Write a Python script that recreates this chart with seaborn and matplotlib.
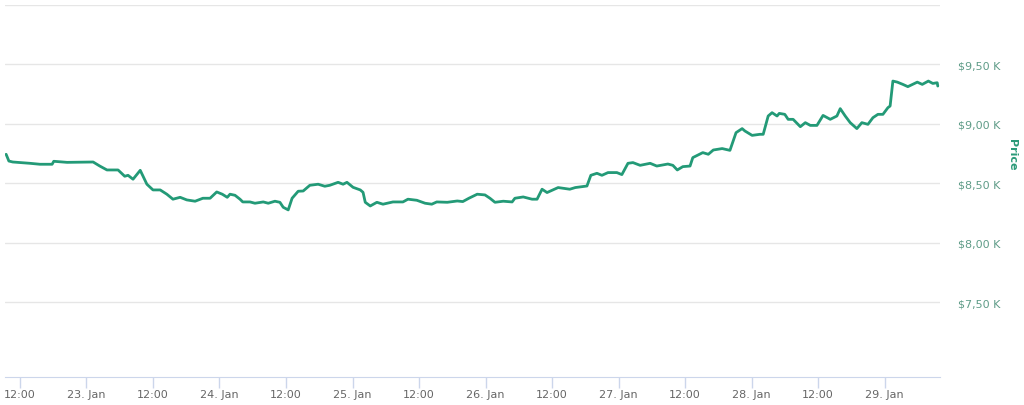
import numpy as np
import pandas as pd
import matplotlib
matplotlib.use("Agg")
import matplotlib.pyplot as plt
import matplotlib.dates as mdates
from matplotlib.ticker import FuncFormatter
import seaborn as sns

# hours since 2020-01-22 00:00 and BTC price in USD
HOURS = [9.5, 10.0, 10.7, 13.8, 15.6, 17.8, 18.1, 20.5, 25.2, 26.4, 27.7, 29.7,
         30.9, 31.5, 32.4, 33.7, 34.2, 34.9, 36.0, 37.3, 38.5, 39.6, 40.9, 42.1,
         43.6, 45.0, 46.3, 47.5, 48.5, 49.4, 49.9, 50.8, 51.7, 52.2, 53.5, 54.4,
         55.9, 56.8, 58.0, 58.9, 59.5, 60.4, 61.1, 62.2, 63.1, 64.3, 65.8, 67.0,
         67.9, 69.4, 70.3, 71.0, 72.1, 73.4, 73.9, 74.3, 75.2, 76.4, 77.5, 79.3,
         81.1, 82.0, 83.6, 85.1, 86.3, 87.2, 89.1, 90.9, 91.9, 93.0, 94.5, 95.9,
         96.8, 97.7, 99.2, 100.8, 101.3, 102.8, 104.4, 105.3, 106.2, 107.1, 109.1,
         111.2, 112.2, 114.3, 115.0, 116.1, 117.0, 118.1, 119.7, 120.6, 121.7,
         122.6, 123.9, 125.7, 126.9, 128.9, 129.8, 130.6, 131.6, 132.9, 133.4,
         135.2, 136.2, 137.1, 138.7, 140.1, 141.2, 142.3, 142.8, 144.1, 145.5,
         146.1, 147.0, 147.7, 148.6, 149.0, 150.0, 150.6, 151.5, 152.8, 153.7,
         154.6, 155.8, 156.9, 158.2, 159.4, 160.0, 160.9, 161.8, 163.0, 163.9,
         165.0, 165.9, 166.8, 167.7, 168.6, 169.0, 169.5, 170.3, 171.3, 172.2,
         173.9, 174.8, 175.9, 176.7, 177.5, 177.6]
PRICES = [8744, 8687, 8679, 8668, 8660, 8660, 8685, 8676, 8679, 8645, 8612, 8612,
          8559, 8567, 8534, 8609, 8561, 8492, 8444, 8444, 8408, 8366, 8382, 8360,
          8349, 8374, 8374, 8427, 8408, 8382, 8408, 8399, 8366, 8343, 8343, 8332,
          8343, 8332, 8349, 8340, 8298, 8276, 8374, 8433, 8435, 8483, 8492, 8475,
          8483, 8508, 8492, 8508, 8466, 8444, 8424, 8340, 8309, 8340, 8324, 8343,
          8343, 8366, 8357, 8332, 8324, 8343, 8340, 8351, 8346, 8374, 8408, 8402,
          8374, 8340, 8349, 8343, 8374, 8385, 8366, 8366, 8450, 8422, 8464,
          8450, 8464, 8477, 8567, 8584, 8567, 8590, 8590, 8573, 8668,
          8674, 8651, 8668, 8645, 8662, 8651, 8612, 8640, 8645, 8716,
          8758, 8744, 8780, 8792, 8777, 8926, 8960, 8940, 8903, 8912,
          8912, 9066, 9094, 9066, 9088, 9080, 9038, 9038, 8976, 9010,
          8987, 8987, 9071, 9038, 9066, 9128, 9066, 9010, 8960, 9010,
          8996, 9052, 9080, 9080, 9136, 9150, 9360, 9351, 9332, 9313,
          9351, 9332, 9360, 9340, 9346, 9318]

Y_TICKS = [7500, 8000, 8500, 9000, 9500, 10000]
LINE_COLOR = "#239a77"

start = pd.Timestamp("2020-01-22 00:00")
df = pd.DataFrame({
    "time": start + pd.to_timedelta(HOURS, unit="h"),
    "price": PRICES,
})

sns.set_style("white")
plt.rcParams["font.family"] = ["DejaVu Sans"]

fig = plt.figure(figsize=(10.24, 4.06), dpi=100)
ax = fig.add_axes([5 / 1024, 28 / 406, 935 / 1024, 372 / 406])

sns.lineplot(data=df, x="time", y="price", ax=ax, color=LINE_COLOR,
             linewidth=2.0, zorder=3)

ax.set_xlim(start + pd.Timedelta(hours=9.3), start + pd.Timedelta(hours=178.0))
ax.set_ylim(6870, 10000)

# y axis on the right, like the original
ax.yaxis.tick_right()
ax.yaxis.set_label_position("right")
ax.set_yticks(Y_TICKS)
ax.yaxis.set_major_formatter(FuncFormatter(
    lambda v, _: "" if v >= 10000 else ("$%.2f K" % (v / 1000)).replace(".", ",")))
ax.tick_params(axis="y", length=0, pad=13, labelsize=8, labelcolor="#5f9c88")
ax.grid(axis="y", color="#e6e6e6", linewidth=1)
ax.grid(axis="x", visible=False)

# x ticks every 12 hours
ticks = [start + pd.Timedelta(hours=h) for h in range(12, 169, 12)]
ax.set_xticks(ticks)
ax.xaxis.set_major_formatter(FuncFormatter(
    lambda v, _: "12:00" if mdates.num2date(v).hour == 12
    else "%d. Jan" % mdates.num2date(v).day))
ax.tick_params(axis="x", bottom=True, direction="out", length=8, width=1,
               color="#ccd6eb", labelsize=8, labelcolor="#666666", pad=1)

for side in ["top", "left", "right"]:
    ax.spines[side].set_visible(False)
ax.spines["bottom"].set_color("#ccd6eb")

ax.set_xlabel("")
ax.set_ylabel("")
fig.text(1012 / 1024, 1 - 155 / 406, "Price", rotation=270, ha="center",
         va="center", fontsize=8, fontweight="bold", color="#2a9a78")

fig.savefig("out.png", dpi=100)
